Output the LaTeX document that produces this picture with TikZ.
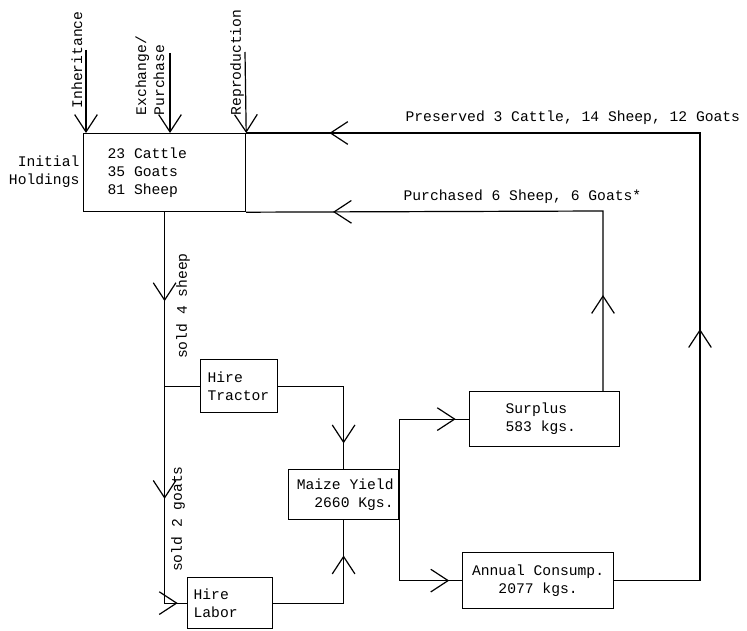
\documentclass[tikz,border=0pt]{standalone}
\usepackage{fontspec}
\setmonofont{Liberation Mono}[WordSpace={1,0,0}]
\usepackage{tikz}
\usetikzlibrary{arrows.meta,positioning,calc,decorations.markings}

\begin{document}
\begin{tikzpicture}[x=0.75pt, y=-0.75pt,
    line width=0.9pt,
    openv/.tip={Straight Barb[length=13pt, width=17pt, line width=0.9pt]},
    box/.style={rectangle, draw, line width=0.9pt, inner ysep=2pt, anchor=north west,
        font=\ttfamily\fontsize{11}{13.5}\selectfont,
        execute at begin node={\spaceskip 6.6pt\relax}},
    lbl/.style={inner sep=0pt, font=\ttfamily\fontsize{11}{13.5}\selectfont},
    arrowat/.style={postaction={decorate, decoration={markings,
        mark=at position #1 with {\arrow{openv}}}}}
]
\useasboundingbox (0,0) rectangle (747,631);

% --- the holdings ---
\node[box, align=left, inner xsep=18pt, text width=85.5pt, minimum height=58.5pt]
    (hold) at (83,133) {23 Cattle\\35 Goats\\81 Sheep};
\node[lbl, align=right, anchor=east] (holdlbl) at (80,172) {Initial\\Holdings};

% inflows on top
\coordinate (inh) at (86,50);
\coordinate (exch) at (170,53);
\coordinate (repr) at (245,52);
\draw[-openv] (inh) -- (inh |- hold.north);
\draw[-openv] (exch) -- (exch |- hold.north);
\draw[-openv] (repr) -- (hold.north east);
\node[lbl, rotate=90, anchor=west] (inhlbl) at (77,109) {Inheritance};
\node[lbl, rotate=90, anchor=west, align=left] (exchlbl) at (150,116) {Exchange/\\Purchase};
\node[lbl, rotate=90, anchor=west] (reprlbl) at (237,116) {Reproduction};

% --- inputs bought by selling stock ---
\node[box, align=left, inner xsep=5.25pt, text width=47.25pt, minimum height=39.75pt]
    (tractor) at (200,359) {Hire\\Tractor};
\node[box, align=left, inner xsep=4.5pt, text width=54.75pt, minimum height=38.25pt]
    (labor) at (187,577) {Hire\\Labor};

\draw[arrowat=66.75pt, arrowat=215pt, arrowat=303pt] (hold.south) |- (labor.west);
\draw (hold.south |- tractor.west) -- (tractor.west);
\node[lbl, rotate=90] (sold1) at (183,306) {sold 4 sheep};
\node[lbl, rotate=90] (sold2) at (178,519) {sold 2 goats};

% --- yield ---
\node[box, align=right, inner xsep=3.75pt, text width=75pt, minimum height=37.5pt]
    (maize) at (288,469) {Maize Yield\\2660 Kgs.};
\draw[arrowat=92pt] (tractor.east) -| (maize.north);
\draw[arrowat=88.5pt] (labor.east) -| (maize.south);

\node[box, align=left, inner xsep=27pt, text width=58.5pt, minimum height=41.25pt]
    (surplus) at (469,391) {Surplus\\583 kgs.};
\node[box, align=center, inner xsep=3pt, text width=107.25pt, minimum height=42pt]
    (annual) at (462,552) {Annual Consump.\\2077 kgs.};
\draw[arrowat=99pt] (maize.east) |- (surplus.west);
\draw[arrowat=102pt] (maize.east) |- (annual.west);

% --- back to the holdings ---
\coordinate (pu) at (603,211);
\coordinate (pr) at (700,133);
\draw[arrowat=72pt, arrowat=337.5pt] (pu |- surplus.north) -- (pu) -- (hold.south east);
\draw[arrowat=253pt, arrowat=678pt] (annual.east) -| (pr) -- (hold.north east);
\node[lbl, anchor=west] (preslbl) at (405,118) {Preserved 3 Cattle, 14 Sheep, 12 Goats};
\node[lbl, anchor=west] (purclbl) at (403,197) {Purchased 6 Sheep, 6 Goats*};

\end{tikzpicture}
\end{document}
